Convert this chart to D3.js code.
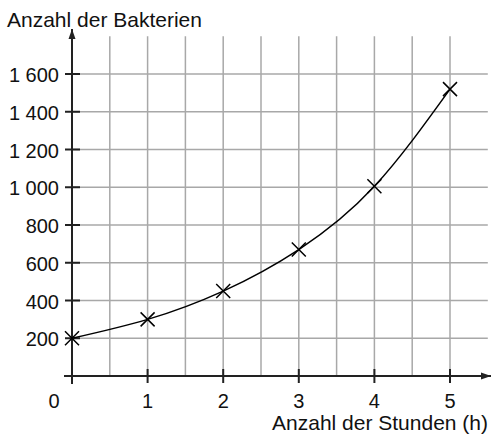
<!DOCTYPE html>
<html>
<head>
<meta charset="utf-8">
<script src="https://cdn.jsdelivr.net/npm/d3@7"></script>
<style>
  body { margin: 0; background: #fff; }
  text { font-family: "Liberation Sans", Arial, sans-serif; fill: #111; }
</style>
</head>
<body>
<div id="chart"></div>
<script>
// data
var hours = [0, 1, 2, 3, 4, 5];
var bacteria = [200, 300, 450, 670, 1005, 1520];
var yTicks = [200, 400, 600, 800, 1000, 1200, 1400, 1600];
var xTicks = [0, 1, 2, 3, 4, 5];

var width = 491, height = 437;

var svg = d3.select("#chart").append("svg")
  .attr("width", width).attr("height", height);

// scales
var x = d3.scaleLinear().domain([0, 5]).range([72, 450]);
var y = d3.scaleLinear().domain([0, 1600]).range([376, 74]);

var gridColor = "#a8a8a8", axisColor = "#222";

// vertical grid every half hour
var gx = d3.range(0.5, 5.01, 0.5);
svg.append("g").selectAll("line").data(gx).enter().append("line")
  .attr("x1", function (d) { return x(d); })
  .attr("x2", function (d) { return x(d); })
  .attr("y1", y(1800)).attr("y2", y(0))
  .attr("stroke", gridColor).attr("stroke-width", 1.5);

// horizontal grid every 200
svg.append("g").selectAll("line").data(yTicks).enter().append("line")
  .attr("x1", x(0)).attr("x2", x(5.5))
  .attr("y1", function (d) { return y(d); })
  .attr("y2", function (d) { return y(d); })
  .attr("stroke", gridColor).attr("stroke-width", 1.5);

// arrow heads
var defs = svg.append("defs");
defs.append("marker").attr("id", "arrow")
  .attr("viewBox", "0 0 10 10").attr("refX", 10).attr("refY", 5)
  .attr("markerWidth", 10).attr("markerHeight", 10)
  .attr("markerUnits", "userSpaceOnUse")
  .attr("orient", "auto")
  .append("path").attr("d", "M0,1.5 L10,5 L0,8.5 Z").attr("fill", axisColor);

// axes
svg.append("line")
  .attr("x1", 64).attr("x2", 491)
  .attr("y1", y(0)).attr("y2", y(0))
  .attr("stroke", axisColor).attr("stroke-width", 2)
  .attr("marker-end", "url(#arrow)");
svg.append("line")
  .attr("x1", x(0)).attr("x2", x(0))
  .attr("y1", 384).attr("y2", 29)
  .attr("stroke", axisColor).attr("stroke-width", 2)
  .attr("marker-end", "url(#arrow)");

// y ticks + labels
var yt = svg.append("g").selectAll("g").data(yTicks).enter().append("g")
  .attr("transform", function (d) { return "translate(0," + y(d) + ")"; });
yt.append("line").attr("x1", 65).attr("x2", 80)
  .attr("stroke", axisColor).attr("stroke-width", 2);
yt.append("text")
  .attr("x", 59).attr("y", 8)
  .attr("text-anchor", "end")
  .attr("font-size", 20)
  .text(function (d) { return d3.format(",")(d).replace(",", " "); });

// x ticks + labels
var xt = svg.append("g").selectAll("g").data(xTicks).enter().append("g")
  .attr("transform", function (d) { return "translate(" + x(d) + ",0)"; });
xt.filter(function (d) { return d > 0; }).append("line")
  .attr("y1", y(0) - 7).attr("y2", y(0) + 7)
  .attr("stroke", axisColor).attr("stroke-width", 2);
xt.append("text")
  .attr("x", function (d) { return d === 0 ? -18 : 0; })
  .attr("y", 408)
  .attr("text-anchor", "middle")
  .attr("font-size", 20)
  .text(function (d) { return d; });

// axis titles
svg.append("text").attr("x", 7).attr("y", 27)
  .attr("font-size", 21).text("Anzahl der Bakterien");
svg.append("text").attr("x", 488).attr("y", 430)
  .attr("text-anchor", "end")
  .attr("font-size", 21).text("Anzahl der Stunden (h)");

// growth curve
var pts = hours.map(function (h, i) { return [h, bacteria[i]]; });
var line = d3.line()
  .x(function (d) { return x(d[0]); })
  .y(function (d) { return y(d[1]); })
  .curve(d3.curveNatural);
svg.append("path").datum(pts)
  .attr("d", line)
  .attr("fill", "none").attr("stroke", "#000").attr("stroke-width", 1.5);

// cross markers
var s = 7;
var marks = svg.append("g").selectAll("g").data(pts).enter().append("g")
  .attr("transform", function (d) { return "translate(" + x(d[0]) + "," + y(d[1]) + ")"; });
marks.append("path")
  .attr("d", "M" + (-s) + "," + (-s) + "L" + s + "," + s + "M" + (-s) + "," + s + "L" + s + "," + (-s))
  .attr("stroke", "#000").attr("stroke-width", 1.5).attr("fill", "none");
</script>
</body>
</html>
